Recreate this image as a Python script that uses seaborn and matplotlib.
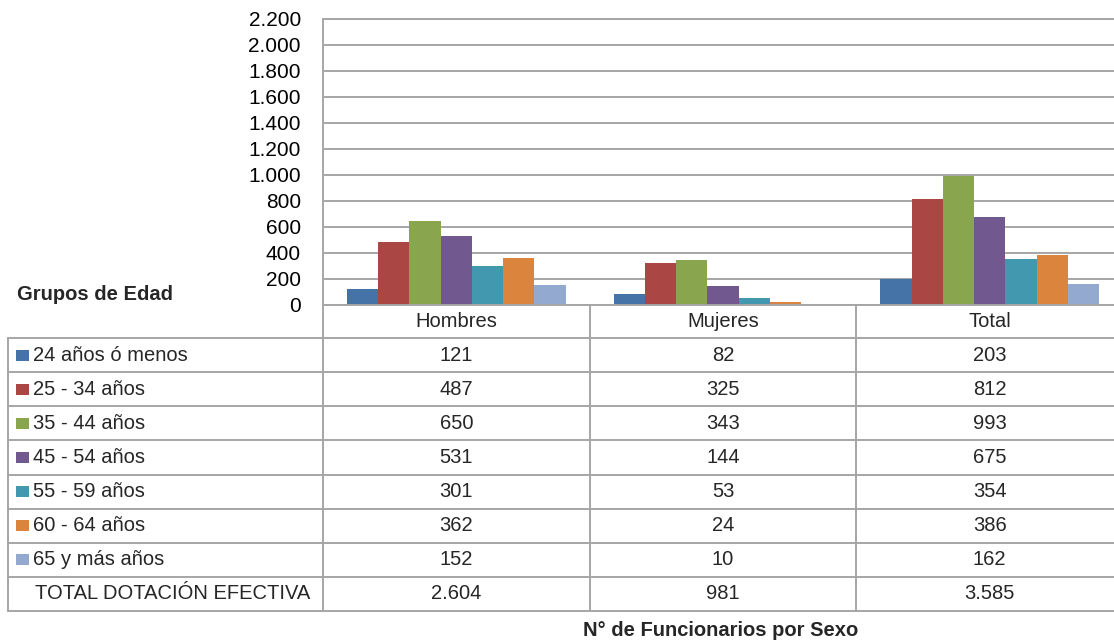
import numpy as np
import pandas as pd
import matplotlib
matplotlib.use('Agg')
import matplotlib.pyplot as plt
import matplotlib.transforms as mtransforms
from matplotlib.patches import Rectangle
from matplotlib.lines import Line2D
import seaborn as sns

sexos = ['Hombres', 'Mujeres', 'Total']
grupos = ['24 años ó menos', '25 - 34 años', '35 - 44 años', '45 - 54 años',
          '55 - 59 años', '60 - 64 años', '65 y más años']
hombres = [121, 487, 650, 531, 301, 362, 152]
mujeres = [82, 325, 343, 144, 53, 24, 10]
total = [203, 812, 993, 675, 354, 386, 162]
totales = [2604, 981, 3585]
fila_total = 'TOTAL DOTACIÓN EFECTIVA'
colores = ['#4572A7', '#AA4643', '#89A54E', '#71588F', '#4198AF', '#DB843D', '#93A9CF']

sns.set_style('white')
plt.rcParams['font.family'] = ['Liberation Sans', 'DejaVu Sans']

def miles(v):
    return f'{v:,.0f}'.replace(',', '.')

# pixel -> figure fraction
W, H = 1114, 643
def fx(x):
    return x / W
def fy(y):
    return 1 - y / H

rows = []
for sexo, vals in zip(sexos, [hombres, mujeres, total]):
    for g, v in zip(grupos, vals):
        rows.append({'sexo': sexo, 'grupo': g, 'n': v})
df = pd.DataFrame(rows)

fig = plt.figure(figsize=(W / 100, H / 100), dpi=100)
ax = fig.add_axes([fx(323), fy(305), 800 / W, 286 / H])

sns.barplot(data=df, x='sexo', y='n', hue='grupo', order=sexos, hue_order=grupos,
            palette=colores, width=0.82, saturation=1, errorbar=None, legend=False,
            linewidth=0, ax=ax)

grid_c = '#A6A6A6'
ax.set_xlim(-0.5, 2.5)
ax.set_ylim(0, 2200)
ax.set_yticks(range(0, 2201, 200))
ax.set_yticklabels([miles(v) for v in range(0, 2201, 200)])
ax.set_xticks([])
ax.set_xlabel('')
ax.set_ylabel('')
ax.tick_params(axis='y', length=0, pad=16, labelsize=15, labelcolor='black')
ax.set_axisbelow(True)
ax.yaxis.grid(True, color=grid_c, lw=1.4)
ax.spines['right'].set_visible(False)
for s in ['left', 'top', 'bottom']:
    ax.spines[s].set_color(grid_c)
    ax.spines[s].set_linewidth(1.4)

# data table under the chart
trans = mtransforms.blended_transform_factory(ax.transData, fig.transFigure)
top_hdr, top_rows, bottom = 305, 338, 611
n_rows = len(grupos) + 1
row_h = (bottom - top_rows) / n_rows
fs = 14.5

def hline(y, x0=8):
    fig.add_artist(Line2D([fx(x0), 1], [fy(y), fy(y)], color=grid_c, lw=1.4,
                          transform=fig.transFigure))

def vline(x, y0, y1, t):
    fig.add_artist(Line2D([x, x], [fy(y0), fy(y1)], color=grid_c, lw=1.4, transform=t))

for i in range(n_rows + 1):
    hline(top_rows + i * row_h)
vline(fx(8), top_rows, bottom, fig.transFigure)
vline(fx(323), top_hdr, bottom, fig.transFigure)
for xb in [0.5, 1.5]:
    vline(xb, top_hdr, bottom, trans)

for j, sexo in enumerate(sexos):
    fig.text(j, fy((top_hdr + top_rows) / 2), sexo, transform=trans,
             ha='center', va='center', fontsize=fs)

tabla = [hombres, mujeres, total]
for i, g in enumerate(grupos):
    yc = top_rows + (i + 0.5) * row_h
    fig.add_artist(Rectangle((fx(16), fy(yc + 5.5)), 13 / W, 11 / H,
                             facecolor=colores[i], edgecolor='none',
                             transform=fig.transFigure))
    fig.text(fx(33), fy(yc), g, ha='left', va='center', fontsize=fs)
    for j in range(3):
        fig.text(j, fy(yc), miles(tabla[j][i]), transform=trans,
                 ha='center', va='center', fontsize=fs)

yc = top_rows + (n_rows - 0.5) * row_h
fig.text(fx(35), fy(yc), fila_total, ha='left', va='center', fontsize=fs)
for j in range(3):
    fig.text(j, fy(yc), miles(totales[j]), transform=trans,
             ha='center', va='center', fontsize=fs)

fig.text(fx(17), fy(295), 'Grupos de Edad', ha='left', va='center',
         fontsize=14.5, fontweight='bold')
fig.text(fx(721), fy(631), 'N° de Funcionarios por Sexo', ha='center', va='center',
         fontsize=14.5, fontweight='bold')

fig.savefig('out.png', dpi=100)
